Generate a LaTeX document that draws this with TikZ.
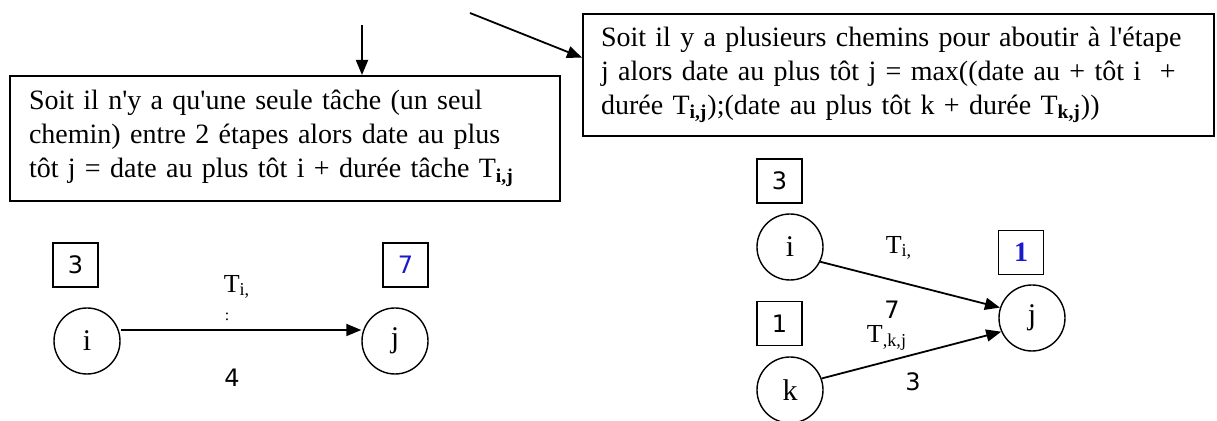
\documentclass[tikz,border=0pt]{standalone}
\usepackage{fontspec}
\setmainfont{Liberation Serif}
\newfontfamily\digitfont{DejaVu Sans}
\usepackage{tikz}
\usetikzlibrary{arrows.meta, positioning, calc}
\definecolor{dateblue}{RGB}{25,25,205}

\tikzset{
  textbox/.style={draw, line width=1pt, anchor=north west, align=left, inner xsep=9.5pt, font=\fontsize{14}{17}\selectfont},
  etape/.style={draw, circle, line width=0.7pt, minimum size=33pt, inner sep=0pt, font=\fontsize{15}{17}\selectfont},
  datebox/.style={draw, rectangle, line width=0.8pt, minimum width=22.5pt, minimum height=22pt, inner sep=0pt, font=\digitfont\fontsize{12}{14}\selectfont},
  fleche/.style={-{Triangle[length=7.5pt,width=6pt]}, line width=0.9pt},
  tache/.style={font=\fontsize{13}{15}\selectfont},
  duree/.style={font=\digitfont\fontsize{12}{14}\selectfont}
}

\begin{document}
\begin{tikzpicture}[x=0.5pt, y=-0.5pt]
\useasboundingbox (0,0) rectangle (1217,421);

% Explanation boxes
\node[textbox, minimum width=275pt, minimum height=62.5pt, text width=256pt] (seul) at (9,75) {\mbox{Soit il n\textquotesingle y a qu\textquotesingle une seule tâche (un seul}\\ \mbox{chemin) entre 2 étapes alors date au plus}\\ \mbox{tôt j = date au plus tôt i + durée tâche T\textsubscript{\textbf{i,j}}}};
\node[textbox, minimum width=315.5pt, minimum height=61pt, text width=297.5pt, inner xsep=9pt] (plusieurs) at (582,13) {\mbox{Soit il y a plusieurs chemins pour aboutir à l\textquotesingle étape}\\ \mbox{j alors date au plus tôt j = max((date au + tôt i~ +}\\ \mbox{durée T\textsubscript{\textbf{i,j}});(date au plus tôt k + durée T\textsubscript{\textbf{k,j}}))}};

% Pointers to the boxes
\coordinate (hautseul) at (362,25);
\coordinate (hautplus) at (470,13);
\draw[fleche] (hautseul) -- (hautseul |- seul.north);
\draw[fleche] (hautplus) -- ($(plusieurs.north west)!0.36!(plusieurs.south west)$);

% One path
\node[etape] (i1) at (87,341) {i};
\node[etape] (j1) at (395,341) {j};
\node[datebox] (di1) at (75.5,265) {3};
\node[datebox, text=dateblue] (dj1) at (405.5,265) {7};
\draw[fleche] ([yshift=5.5pt]i1.east) -- ([yshift=5.5pt]j1.west);
\node[tache] (ti1) at (237,287) {T\textsubscript{i,}};
\node[font=\fontsize{8}{9}\selectfont] (pt1) at (227,317) {:};
\node[duree] (d1) at (232,378) {4};

% Several paths
\node[etape] (i2) at (790,247) {i};
\node[etape] (j2) at (1032,318) {j};
\node[etape] (k2) at (790,390) {k};
\node[datebox] (di2) at (779.5,181) {3};
\node[datebox, text=dateblue, font=\fontsize{14}{16}\selectfont\bfseries] (dj2) at (1021,252.5) {1};
\node[datebox] (dk2) at (779.5,323.5) {1};
\draw[fleche] (i2.-26) -- (j2.162);
\draw[fleche] (k2.20) -- (j2.204);
\node[tache] (ti2) at (899,248) {T\textsubscript{i,}};
\node[duree] (d2) at (892,310) {7};
\node[tache] (tk2) at (887,338) {T\textsubscript{,k,j}};
\node[duree] (d3) at (913,382) {3};
\end{tikzpicture}
\end{document}
